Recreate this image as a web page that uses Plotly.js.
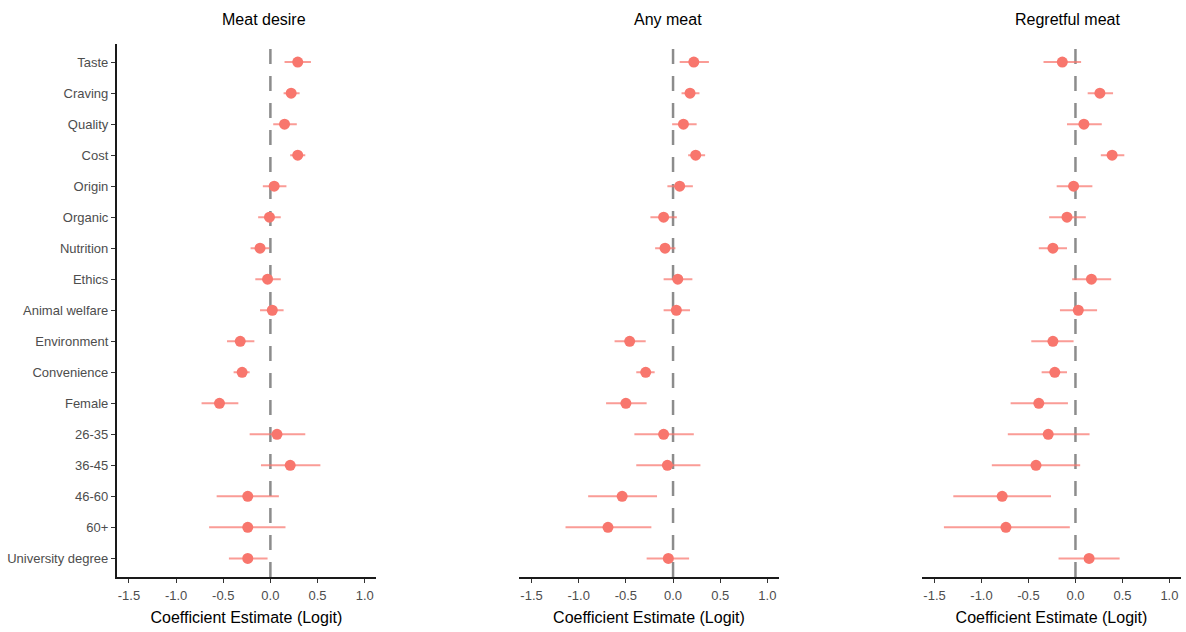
<!DOCTYPE html>
<html>
<head>
<meta charset="utf-8">
<script src="https://cdn.plot.ly/plotly-3.0.1.min.js"></script>
<style>
html,body{margin:0;padding:0;background:#fff;}
#chart{width:1186px;height:632px;}
</style>
</head>
<body>
<div id="chart"></div>
<script>
const categories = ["Taste","Craving","Quality","Cost","Origin","Organic","Nutrition","Ethics","Animal welfare","Environment","Convenience","Female","26-35","36-45","46-60","60+","University degree"];

const panelTitles = ["Meat desire","Any meat","Regretful meat"];
const xTickVals = [-1.5,-1.0,-0.5,0.0,0.5,1.0];
const xTickText = ["-1.5","-1.0","-0.5","0.0","0.5","1.0"];

// Meat desire
const desireEst = [0.29,0.22,0.15,0.29,0.04,-0.01,-0.11,-0.03,0.02,-0.32,-0.30,-0.54,0.07,0.21,-0.24,-0.24,-0.24];
const desireLo  = [0.15,0.14,0.03,0.21,-0.08,-0.13,-0.21,-0.16,-0.11,-0.46,-0.39,-0.73,-0.22,-0.10,-0.57,-0.65,-0.44];
const desireHi  = [0.43,0.31,0.28,0.37,0.17,0.11,-0.01,0.11,0.14,-0.17,-0.22,-0.34,0.37,0.53,0.09,0.16,-0.03];

// Any meat
const anyEst = [0.22,0.18,0.11,0.24,0.07,-0.10,-0.085,0.05,0.035,-0.46,-0.29,-0.50,-0.10,-0.06,-0.54,-0.69,-0.05];
const anyLo  = [0.07,0.09,-0.01,0.16,-0.06,-0.24,-0.19,-0.10,-0.10,-0.62,-0.39,-0.71,-0.41,-0.39,-0.90,-1.14,-0.28];
const anyHi  = [0.38,0.28,0.25,0.34,0.21,0.04,0.025,0.205,0.18,-0.29,-0.195,-0.28,0.22,0.29,-0.17,-0.23,0.17];

// Regretful meat
const regretEst = [-0.14,0.26,0.09,0.39,-0.02,-0.09,-0.24,0.17,0.03,-0.24,-0.22,-0.39,-0.29,-0.42,-0.78,-0.74,0.145];
const regretLo  = [-0.34,0.13,-0.09,0.27,-0.20,-0.28,-0.39,-0.035,-0.165,-0.47,-0.36,-0.69,-0.72,-0.89,-1.30,-1.40,-0.18];
const regretHi  = [0.06,0.40,0.28,0.52,0.18,0.11,-0.09,0.38,0.23,-0.02,-0.09,-0.08,0.15,0.05,-0.26,-0.06,0.47];

const panels = [
  {est: desireEst, lo: desireLo, hi: desireHi},
  {est: anyEst, lo: anyLo, hi: anyHi},
  {est: regretEst, lo: regretLo, hi: regretHi}
];

const W = 1186, H = 632;
const xDomains = [[116.7/W, 376/W],[519.3/W, 778.7/W],[922.3/W, 1180.7/W]];
const yDomain = [1 - 577/H, 1 - 43.5/H];
const titleX = [264/W, 667.5/W, 1067/W];

const dotColor = "#F8766D";
const barColor = "rgba(248,118,109,0.72)";
const FONT = "Liberation Sans, Arial, Helvetica, sans-serif";

const traces = [];
const layout = {
  width: W, height: H,
  margin: {l:0, r:0, t:0, b:0},
  paper_bgcolor: "#fff",
  plot_bgcolor: "#fff",
  showlegend: false,
  font: {family: FONT, size: 13, color: "#4D4D4D"},
  shapes: [],
  annotations: []
};

panels.forEach((p, i) => {
  const n = i === 0 ? "" : String(i + 1);
  traces.push({
    type: "scatter",
    mode: "markers",
    x: p.est,
    y: categories,
    xaxis: "x" + n,
    yaxis: "y" + n,
    marker: {color: dotColor, size: 11, line: {width: 0}},
    error_x: {
      type: "data",
      symmetric: false,
      array: p.hi.map((h, k) => h - p.est[k]),
      arrayminus: p.lo.map((l, k) => p.est[k] - l),
      color: barColor,
      thickness: 2,
      width: 0
    },
    hoverinfo: "x+y"
  });

  layout["xaxis" + n] = {
    domain: xDomains[i],
    anchor: "y" + n,
    range: [-1.63, 1.12],
    tickmode: "array",
    tickvals: xTickVals,
    ticktext: xTickText,
    ticks: "outside",
    ticklen: 4,
    tickwidth: 1.2,
    tickcolor: "#333",
    ticklabelstandoff: 2,
    showline: true,
    linecolor: "#1a1a1a",
    linewidth: 1.6,
    showgrid: false,
    zeroline: false,
    tickfont: {family: FONT, size: 13, color: "#4D4D4D"},
    title: {text: "Coefficient Estimate (Logit)", font: {family: FONT, size: 16, color: "#000"}, standoff: 9},
    fixedrange: true
  };

  layout["yaxis" + n] = {
    domain: yDomain,
    anchor: "x" + n,
    type: "category",
    categoryorder: "array",
    categoryarray: categories,
    range: [categories.length - 1 + 0.6, -0.6],
    showgrid: false,
    zeroline: false,
    showline: i === 0,
    linecolor: "#1a1a1a",
    linewidth: 1.6,
    ticks: i === 0 ? "outside" : "",
    ticklen: 4,
    tickwidth: 1.2,
    tickcolor: "#333",
    showticklabels: i === 0,
    tickfont: {family: FONT, size: 13, color: "#4D4D4D"},
    fixedrange: true
  };

  layout.shapes.push({
    type: "line",
    xref: "x" + n,
    yref: "y" + n + " domain",
    x0: 0, x1: 0, y0: 0, y1: 1,
    layer: "below",
    line: {color: "#8c8c8c", width: 2.5, dash: "15px,12px"}
  });

  layout.annotations.push({
    xref: "paper", yref: "paper",
    x: titleX[i], y: 1 - 20/H,
    xanchor: "center", yanchor: "middle",
    text: panelTitles[i],
    showarrow: false,
    font: {family: FONT, size: 16, color: "#000"}
  });
});

Plotly.newPlot("chart", traces, layout, {displayModeBar: false, staticPlot: false});
</script>
</body>
</html>
